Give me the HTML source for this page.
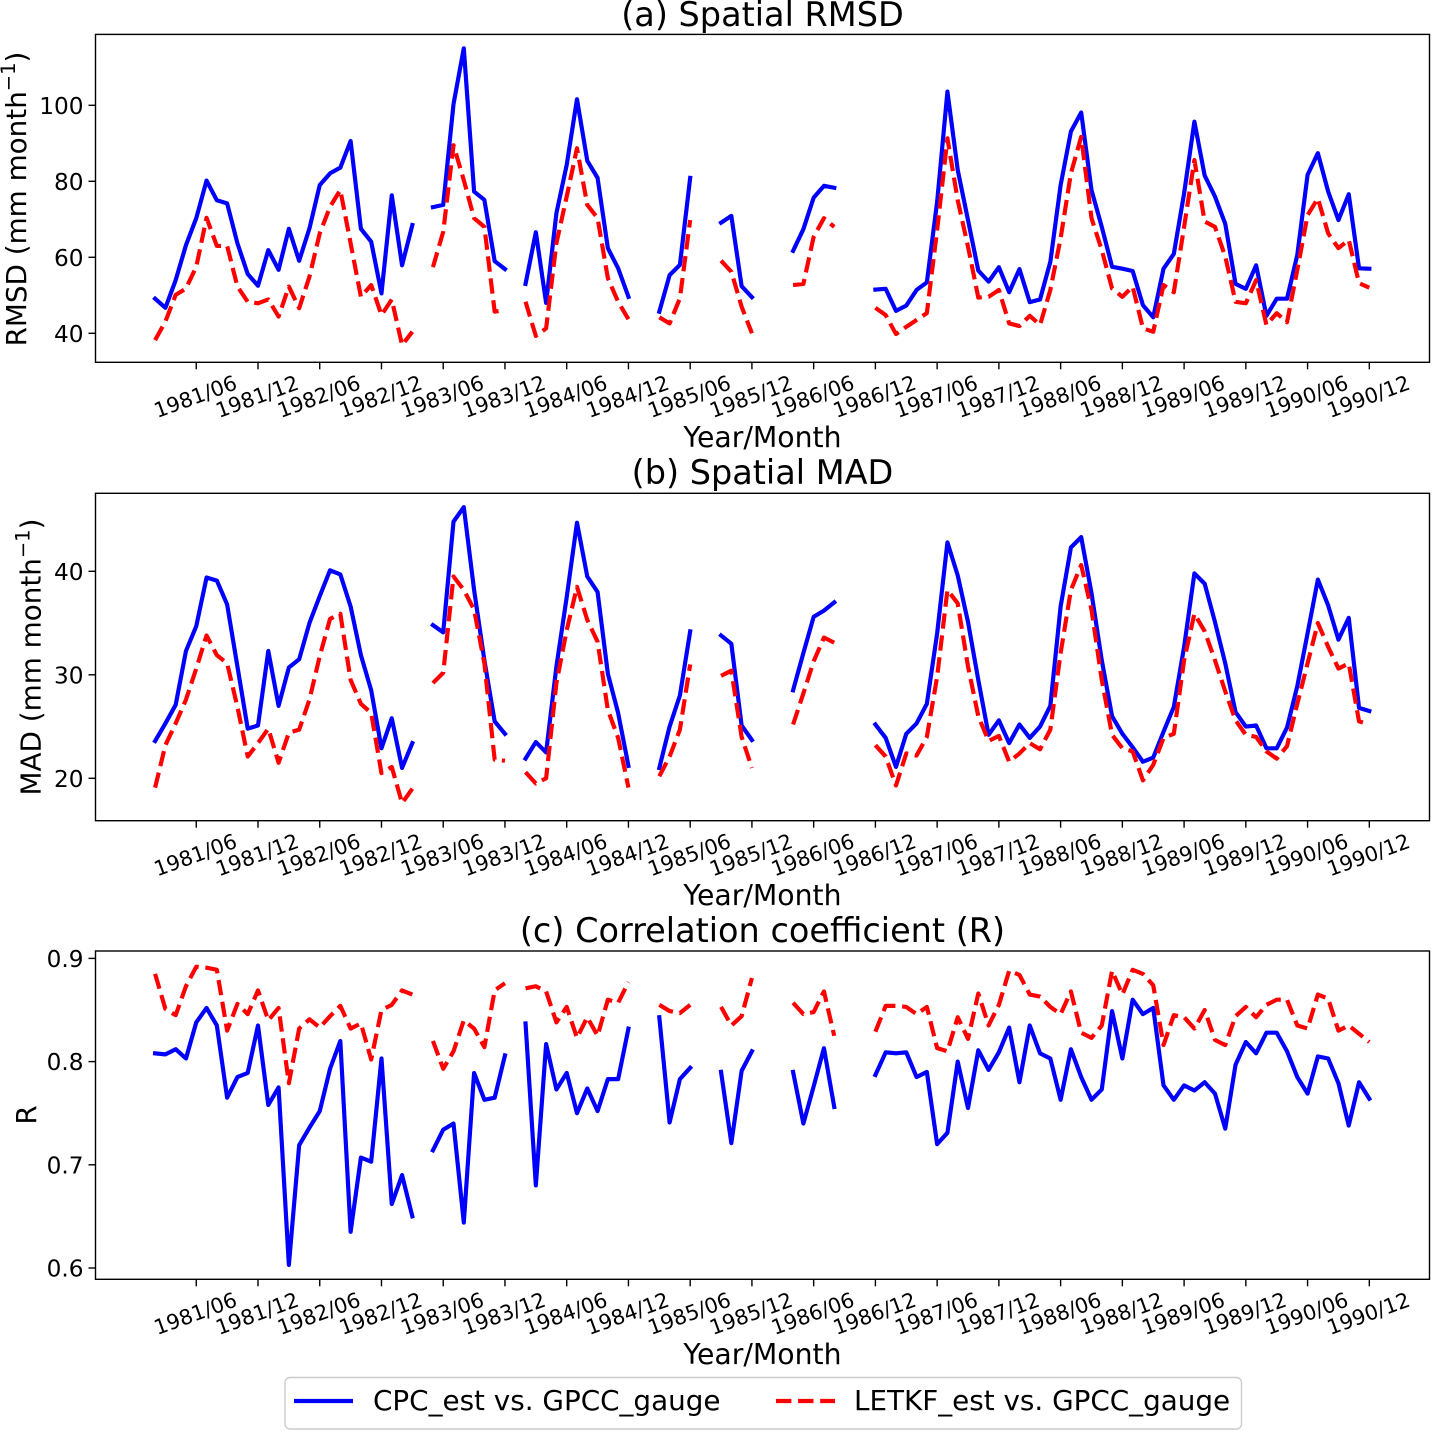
<!DOCTYPE html>
<html lang="en">
<head>
<meta charset="utf-8">
<title>Spatial RMSD, MAD and correlation time series</title>
<style>
html,body{margin:0;padding:0;background:#fff;}
svg{display:block;font-family:"DejaVu Sans",sans-serif;fill:#000;}
</style>
</head>
<body>
<svg id="chart" xmlns="http://www.w3.org/2000/svg" width="1432" height="1431" viewBox="0 0 1432 1431">
  <rect x="0" y="0" width="1432" height="1431" fill="#fff"/>
  <text x="762.5" y="26" font-size="33.5" text-anchor="middle">(a) Spatial RMSD</text>
  <text x="762.5" y="484" font-size="33.5" text-anchor="middle">(b) Spatial MAD</text>
  <text x="762.5" y="942" font-size="33.5" text-anchor="middle">(c) Correlation coefficient (R)</text>
  <text x="762.5" y="447" font-size="28.3" text-anchor="middle">Year/Month</text>
  <text x="762.5" y="905" font-size="28.3" text-anchor="middle">Year/Month</text>
  <text x="762.5" y="1364" font-size="28.3" text-anchor="middle">Year/Month</text>
  <text transform="translate(26 199) rotate(-90)" font-size="27.8" text-anchor="middle">RMSD (mm month<tspan font-size="19.5" dy="-11">−1</tspan><tspan dy="11">)</tspan></text>
  <text transform="translate(40.5 657) rotate(-90)" font-size="27.8" text-anchor="middle">MAD (mm month<tspan font-size="19.5" dy="-11">−1</tspan><tspan dy="11">)</tspan></text>
  <text transform="translate(36 1115) rotate(-90)" font-size="27.8" text-anchor="middle">R</text>
  <g id="panels"></g>
  <g>
    <rect x="285" y="1377.5" width="956.5" height="51.5" rx="5" ry="5" fill="#fff" stroke="#ccc" stroke-width="1.4"/>
    <line x1="294" y1="1401" x2="353" y2="1401" stroke="#0000ff" stroke-width="4.17"/>
    <text x="373" y="1410" font-size="27.8">CPC_est vs. GPCC_gauge</text>
    <line x1="776" y1="1401" x2="835" y2="1401" stroke="#ff0000" stroke-width="4.17" stroke-dasharray="15.4 6.7"/>
    <text x="854" y="1410" font-size="27.8">LETKF_est vs. GPCC_gauge</text>
  </g>
</svg>
<script>
const tickLabels = ["1981/06","1981/12","1982/06","1982/12","1983/06","1983/12","1984/06","1984/12","1985/06","1985/12","1986/06","1986/12","1987/06","1987/12","1988/06","1988/12","1989/06","1989/12","1990/06","1990/12"];
const rmsdTicks = [40,60,80,100];
const madTicks = [20,30,40];
const corrTicks = [0.6,0.7,0.8,0.9];

const rmsdCpc = [49.1,46.7,54,63.2,70.3,80.2,75,74.2,63.7,55.6,52.5,61.9,56.7,67.5,59.1,67.6,79,82.1,83.6,90.6,67.5,64.1,50.5,76.3,57.9,68.5,null,
73.2,73.8,100.3,115,77.3,75.1,59,56.9,null,
53,66.6,48,71.6,84.3,101.6,85.4,80.9,62.4,57.1,49.6,null,null,
45.7,55.3,58,80.9,null,null,
69.1,70.9,52.4,49.5,null,null,null,
61.7,67.4,75.7,78.8,78.3,null,null,null,
51.5,51.7,45.9,47.3,51.4,53.4,74.6,103.6,83,69.8,56.5,53.6,57.4,50.8,56.9,48.2,48.9,58.8,79,93.1,98.1,77.7,68,57.5,57,56.4,47.4,44.2,57,60.9,76.8,95.7,81.5,76,68.8,53,51.7,57.9,44.6,49.1,49.1,60.6,81.7,87.4,77.3,69.8,76.6,57.1,57];

const rmsdLetkf = [38.2,43.1,50.1,51.8,57.5,70.4,63,63,52.3,48.3,47.9,48.9,44.4,52.3,46.6,54.9,66.3,73.3,77.7,63.7,49.6,52.7,44.8,48.9,36.9,40.4,null,
57.4,66.7,89.5,80.3,70.3,68,45.7,46.1,null,
48.3,39.3,41.3,63.7,76,88.7,73.8,70.3,54.5,48.3,43.7,null,null,
44.2,42.6,49.2,69.8,null,null,
59.1,56.2,47,40,null,null,null,
52.7,53,65.4,70.3,68,null,null,null,
46.7,44.8,39.8,41.7,43.5,45.3,67.2,91.3,75,62.8,49.4,49.6,51.4,42.6,41.9,44.6,42.2,51.4,65,82.1,91.7,70.3,61.9,51.8,49.6,52.3,41.3,40.4,52.7,50.8,68,85.6,69.4,68,60.2,48.3,47.9,54,42.2,45.3,42.9,56.7,71.1,75.5,66.3,62.4,64.6,53.2,52];

const madCpc = [23.6,25.3,27.1,32.3,34.7,39.4,39.1,36.8,30.8,24.8,25.1,32.3,27,30.7,31.5,35,37.6,40.1,39.7,36.6,31.9,28.5,22.9,25.8,21,23.4,null,
34.8,34.1,44.8,46.2,38.2,31.4,25.5,24.3,null,
21.9,23.5,22.5,30.8,37.5,44.7,39.5,38,30.1,26.3,21.2,null,null,
21,25,28,34.2,null,null,
33.8,33,25.1,23.7,null,null,null,
28.5,32.1,35.6,36.2,37,null,null,null,
25.2,23.9,21.1,24.3,25.3,27.2,34,42.8,39.6,35.1,29.5,24.2,25.6,23.4,25.2,23.9,25,27,36.6,42.3,43.3,37.9,31.4,26,24.3,23,21.6,22,24.5,26.9,32.7,39.8,38.8,35.1,31.1,26.4,25,25.1,22.9,22.9,24.9,28.9,34,39.2,36.7,33.4,35.5,26.8,26.5];

const madLetkf = [19.1,23.2,25.3,27.6,30.6,33.8,31.9,31.1,26.9,22.1,23.4,24.8,21.5,24.4,24.7,27.6,31.8,35.4,35.9,29.5,27.2,26.3,20.5,21.1,17.6,19,null,
29.2,30.2,39.5,38.2,36.3,31.1,21.8,21.7,null,
20.6,19.5,20,29.2,34.3,38.5,35.3,33.2,26.6,23.9,19.1,null,null,
20.2,22.1,24.7,31,null,null,
29.9,30.4,24,21,null,null,null,
25.2,28.2,31.3,33.6,33.1,null,null,null,
23.2,22.1,19.3,22.4,22.2,24,29.8,38.2,36.9,30.8,26,23.6,24.1,21.6,22.4,23.4,22.8,24.7,32.1,38.2,40.6,36.3,29.5,24.2,22.9,22.6,19.8,21.3,23.9,24.3,31.4,35.9,34.2,31.4,28.4,25.6,24.2,24,22.6,21.9,23.1,27.2,31.1,35,32.7,30.6,31.1,25.5,25.2];

const corrCpc = [.808,.807,.812,.803,.838,.852,.835,.765,.785,.789,.835,.758,.775,.603,.719,.736,.752,.793,.820,.635,.707,.703,.803,.662,.690,.650,null,
.714,.734,.740,.644,.789,.763,.765,.806,null,
.837,.680,.817,.773,.789,.750,.774,.752,.783,.783,.832,null,null,
.843,.741,.783,.794,null,null,
.790,.721,.791,.810,null,null,null,
.790,.740,.776,.813,.756,null,null,null,
.787,.809,.808,.809,.785,.790,.720,.731,.800,.755,.811,.792,.809,.833,.780,.835,.808,.803,.763,.812,.785,.763,.773,.849,.803,.860,.846,.852,.777,.763,.777,.772,.780,.769,.735,.797,.819,.808,.828,.828,.810,.785,.769,.805,.803,.779,.738,.780,.764];

const corrLetkf = [.885,.851,.845,.873,.892,.891,.889,.830,.856,.846,.869,.840,.852,.779,.832,.841,.833,.844,.854,.832,.837,.802,.850,.855,.869,.865,null,
.820,.793,.810,.840,.832,.814,.869,.876,null,
.871,.873,.868,.838,.853,.823,.843,.825,.860,.857,.877,null,null,
.855,.849,.847,.855,null,null,
.853,.835,.844,.881,null,null,null,
.857,.846,.848,.868,.825,null,null,null,
.829,.854,.854,.853,.846,.853,.813,.810,.843,.822,.866,.835,.855,.888,.884,.865,.863,.853,.846,.868,.828,.823,.835,.888,.865,.889,.885,.874,.816,.845,.843,.832,.850,.821,.816,.844,.853,.843,.855,.860,.860,.835,.832,.865,.861,.830,.835,.827,.819];

const NS = "http://www.w3.org/2000/svg";
const LEFT = 95.5, RIGHT = 1429.5;
function xScale(i){ return 155.1 + i * 10.29; }

function makeY(anchorValue, anchorPixel, pxPerUnit){
  return function(v){ return anchorPixel - (v - anchorValue) * pxPerUnit; };
}

function pathFrom(values, y){
  let d = "", pen = false;
  values.forEach(function(v, i){
    if (v === null) { pen = false; return; }
    d += (pen ? "L" : "M") + xScale(i).toFixed(2) + " " + y(v).toFixed(2);
    pen = true;
  });
  return d;
}

function drawPanel(name, top, bottom, y, ticks, fmt, cpc, letkf){
  const root = document.getElementById("panels");
  const g = document.createElementNS(NS, "g");
  
  
  root.appendChild(g);

  const blue = document.createElementNS(NS, "path");
  
  
  blue.setAttribute("d", pathFrom(cpc, y));
  blue.setAttribute("fill", "none");
  blue.setAttribute("stroke", "#0000ff");
  blue.setAttribute("stroke-width", "4.17");
  blue.setAttribute("stroke-linejoin", "round");
  blue.setAttribute("stroke-linecap", "square");

  const red = document.createElementNS(NS, "path");
  
  
  red.setAttribute("d", pathFrom(letkf, y));
  red.setAttribute("fill", "none");
  red.setAttribute("stroke", "#ff0000");
  red.setAttribute("stroke-width", "4.17");
  red.setAttribute("stroke-linejoin", "round");
  red.setAttribute("stroke-dasharray", "15.4 6.7");
  g.appendChild(blue);
  g.appendChild(red);

  const frame = document.createElementNS(NS, "rect");
  
  
  frame.setAttribute("x", LEFT);
  frame.setAttribute("y", top);
  frame.setAttribute("width", RIGHT - LEFT);
  frame.setAttribute("height", bottom - top);
  frame.setAttribute("fill", "none");
  frame.setAttribute("stroke", "#000");
  frame.setAttribute("stroke-width", "1.4");
  g.appendChild(frame);

  ticks.forEach(function(t){
    const py = y(t);
    const tick = document.createElementNS(NS, "line");
    
    
    tick.setAttribute("x1", LEFT - 7);
    tick.setAttribute("x2", LEFT);
    tick.setAttribute("y1", py);
    tick.setAttribute("y2", py);
    tick.setAttribute("stroke", "#000");
    tick.setAttribute("stroke-width", "1.4");
    g.appendChild(tick);
    const label = document.createElementNS(NS, "text");
    
    
    label.setAttribute("x", LEFT - 12);
    label.setAttribute("y", py + 8.5);
    label.setAttribute("font-size", "23.2");
    label.setAttribute("text-anchor", "end");
    label.textContent = fmt(t);
    g.appendChild(label);
  });

  tickLabels.forEach(function(lab, k){
    const px = xScale(4 + 6 * k);
    const tick = document.createElementNS(NS, "line");
    
    
    tick.setAttribute("x1", px);
    tick.setAttribute("x2", px);
    tick.setAttribute("y1", bottom);
    tick.setAttribute("y2", bottom + 7);
    tick.setAttribute("stroke", "#000");
    tick.setAttribute("stroke-width", "1.4");
    g.appendChild(tick);
    const label = document.createElementNS(NS, "text");
    
    
    const cy = bottom + 34;
    label.setAttribute("transform", "translate(" + (px - 1).toFixed(2) + " " + cy + ") rotate(-20)");
    label.setAttribute("y", "7.5");
    label.setAttribute("font-size", "20.8");
    label.setAttribute("text-anchor", "middle");
    label.textContent = lab;
    g.appendChild(label);
  });
}

drawPanel("rmsd", 34.4, 362.3, makeY(40, 333.3, 3.8), rmsdTicks, function(v){ return String(v); }, rmsdCpc, rmsdLetkf);
drawPanel("mad", 493.3, 820.7, makeY(40, 571.3, 10.35), madTicks, function(v){ return String(v); }, madCpc, madLetkf);
drawPanel("correlation", 951, 1279.3, makeY(0.9, 958.4, 1032), corrTicks, function(v){ return v.toFixed(1); }, corrCpc, corrLetkf);
</script>
</body>
</html>
